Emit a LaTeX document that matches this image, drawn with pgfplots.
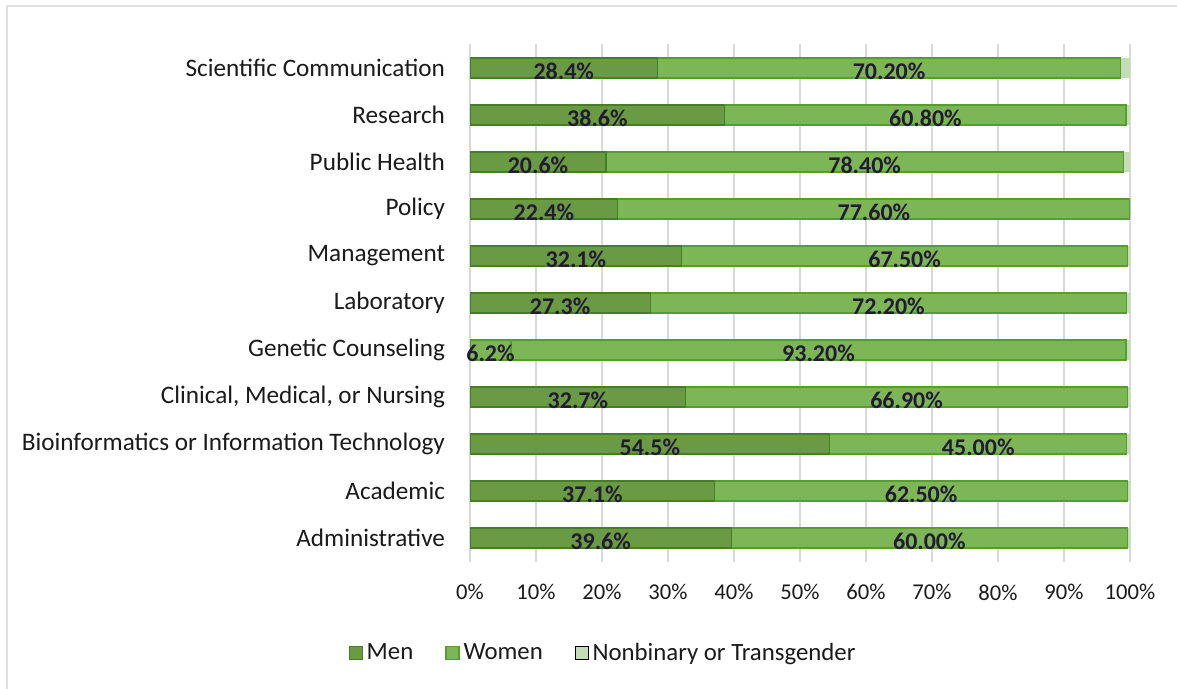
\documentclass[border=0pt]{standalone}
\usepackage{pgfplots}
\pgfplotsset{compat=1.18}
\usepackage{pgfplotstable}
\usepackage{fontspec}
\setmainfont{Carlito}

\definecolor{mencol}{HTML}{6A9A43}
\definecolor{womcol}{HTML}{7DB656}
\definecolor{nbcol}{HTML}{C5DDB5}
\definecolor{edgecol}{HTML}{559E2E}
\definecolor{gridcol}{HTML}{D9D9D9}
\definecolor{framecol}{HTML}{E0E0E0}
\definecolor{lblcol}{HTML}{231A33}
\definecolor{txtcol}{HTML}{1A1A1A}

% y = category index from bottom; mengc carries the Genetic Counseling men share,
% which the reference draws in the lighter fill
\pgfplotstableread{
y  men  mengc women nb  lm       lg      lw
0  39.6 0     60.0  0.4 39.6\%   {}      60.00\%
1  37.1 0     62.5  0.4 37.1\%   {}      62.50\%
2  54.5 0     45.0  0.5 54.5\%   {}      45.00\%
3  32.7 0     66.9  0.4 32.7\%   {}      66.90\%
4  0    6.2   93.2  0.6 {}       6.2\%   93.20\%
5  27.3 0     72.2  0.5 27.3\%   {}      72.20\%
6  32.1 0     67.5  0.4 32.1\%   {}      67.50\%
7  22.4 0     77.6  0.0 22.4\%   {}      77.60\%
8  20.6 0     78.4  1.0 20.6\%   {}      78.40\%
9  38.6 0     60.8  0.6 38.6\%   {}      60.80\%
10 28.4 0     70.2  1.4 28.4\%   {}      70.20\%
}\datatable

\pgfplotsset{
  sq legend/.style={legend image code/.code={\draw[##1] (0pt,-3.25pt) rectangle (6.5pt,3.25pt);}},
  seglabel/.style={nodes near coords, point meta=explicit symbolic,
    nodes near coords style={anchor=center, font=\bfseries\fontsize{12}{14}\selectfont,
      text=lblcol, yshift=-1.5pt}},
}

\begin{document}
\begin{tikzpicture}
\useasboundingbox (0,0) rectangle (588.5pt,-344.5pt);
\draw[framecol, line width=1.2pt] (3.5pt,-344.5pt) -- (3.5pt,-3pt) -- (588.5pt,-3pt);
\begin{axis}[
  at={(235pt,-280.75pt)}, anchor=south west,
  width=330pt, height=258.5pt, scale only axis,
  xbar stacked, bar width=10pt,
  xmin=0, xmax=100, ymin=-0.5, ymax=10.5,
  xtick={0,10,...,100},
  xticklabels={0\%,10\%,20\%,30\%,40\%,50\%,60\%,70\%,80\%,90\%,100\%},
  ytick={0,...,10},
  yticklabels={Administrative, Academic, {Bioinformatics or Information Technology},
    {Clinical, Medical, or Nursing}, Genetic Counseling, Laboratory, Management,
    Policy, Public Health, Research, Scientific Communication},
  xmajorgrids, major grid style={gridcol, line width=0.9pt},
  axis line style={draw=none}, tick style={draw=none},
  x tick label style={font=\fontsize{11.3}{13}\selectfont, text=txtcol, yshift=-8pt},
  y tick label style={font=\fontsize{12.6}{14}\selectfont, text=txtcol, xshift=-9pt},
  legend columns=3,
  legend style={at={(0.203,-0.177)}, anchor=center, draw=none,
    font=\fontsize{12.4}{14}\selectfont, text=txtcol,
    /tikz/every even column/.append style={column sep=14pt}},
]
\addplot[fill=mencol, draw=edgecol!80!black, line width=0.6pt, sq legend, seglabel]
  table[x=men, y=y, meta=lm] {\datatable};
\addlegendentry{Men}
\addplot[forget plot, fill=womcol, draw=edgecol, line width=0.6pt, seglabel]
  table[x=mengc, y=y, meta=lg] {\datatable};
\addplot[fill=womcol, draw=edgecol, line width=0.6pt, sq legend, seglabel]
  table[x=women, y=y, meta=lw] {\datatable};
\addlegendentry{Women}
\addplot[fill=nbcol, draw=none, sq legend]
  table[x=nb, y=y] {\datatable};
\addlegendentry{Nonbinary or Transgender}
\end{axis}
\end{tikzpicture}
\end{document}
